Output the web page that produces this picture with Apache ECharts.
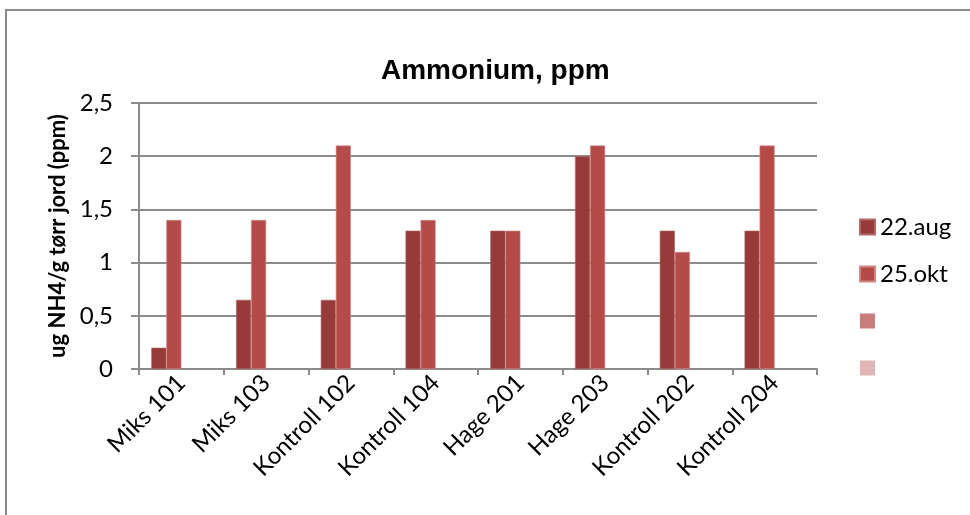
<!DOCTYPE html>
<html>
<head>
<meta charset="utf-8">
<script src="https://cdn.jsdelivr.net/npm/echarts@6/dist/echarts.min.js"></script>
<style>
  html, body { margin: 0; padding: 0; background: #fff; }
  #frame { position: absolute; left: 5px; top: 9px; width: 980px; height: 520px;
           border-left: 2px solid #8c8c8c; border-top: 2px solid #8c8c8c; }
  #myChart { position: absolute; left: 0; top: 0; width: 970px; height: 515px; }
</style>
</head>
<body>
<div id="frame"></div>
<div id="myChart"></div>
<script>
// categories and values
var categories = ['Miks 101', 'Miks 103', 'Kontroll 102', 'Kontroll 104',
                  'Hage 201', 'Hage 203', 'Kontroll 202', 'Kontroll 204'];
var aug22 = [0.2, 0.65, 0.65, 1.3, 1.3, 2.0, 1.3, 1.3];
var okt25 = [1.4, 1.4, 2.1, 1.4, 1.3, 2.1, 1.1, 2.1];
// two empty series (legend keeps them, bars take space)
var empty3 = [null, null, null, null, null, null, null, null];
var empty4 = [null, null, null, null, null, null, null, null];
var yTicks = [0, 0.5, 1, 1.5, 2, 2.5];

var font = 'Lato, "Open Sans", sans-serif';

var option = {
  animation: false,
  color: ['#963b3a', '#b44b49', '#c87c7b', '#dfb6b5'],
  title: {
    text: 'Ammonium, ppm',
    left: 376,
    top: 52,
    textStyle: { fontFamily: '"Liberation Sans", sans-serif',
                 fontSize: 28, fontWeight: 'bold', color: '#000' }
  },
  legend: {
    orient: 'vertical',
    left: 854,
    top: 210,
    itemWidth: 15,
    itemHeight: 15,
    itemGap: 23,
    icon: 'rect',
    textStyle: { fontFamily: font, fontSize: 24, lineHeight: 22, color: '#000' },
    data: ['22.aug', '25.okt', ' ', '  ']
  },
  grid: { left: 139, right: 153, top: 103, bottom: 146 },
  xAxis: {
    type: 'category',
    data: categories,
    axisLine: { lineStyle: { color: '#8c8c8c', width: 2 } },
    axisTick: { show: true, length: 6, lineStyle: { color: '#8c8c8c', width: 2 } },
    axisLabel: { rotate: 45, margin: 10, fontFamily: font, fontSize: 24, color: '#000' }
  },
  yAxis: {
    type: 'value',
    min: 0,
    max: yTicks[yTicks.length - 1],
    interval: 0.5,
    name: 'ug NH4/g tørr jord (ppm)',
    nameLocation: 'middle',
    nameGap: 68,
    nameRotate: 90,
    nameTextStyle: { fontFamily: font, fontSize: 22, fontWeight: 'bold', color: '#000' },
    axisLine: { show: true, lineStyle: { color: '#8c8c8c', width: 2 } },
    axisTick: { show: true, length: 8, lineStyle: { color: '#8c8c8c', width: 2 } },
    splitLine: { lineStyle: { color: '#8c8c8c', width: 2 } },
    axisLabel: {
      margin: 26, fontFamily: font, fontSize: 24, color: '#000',
      formatter: function (v) { return String(v).replace('.', ','); }
    }
  },
  series: [
    { name: '22.aug', type: 'bar', data: aug22, barGap: 0, barCategoryGap: '29%',
      itemStyle: { borderColor: '#b06866', borderWidth: 0.6 } },
    { name: '25.okt', type: 'bar', data: okt25, barGap: 0, barCategoryGap: '29%',
      itemStyle: { borderColor: '#d08886', borderWidth: 0.6 } },
    { name: ' ', type: 'bar', data: empty3, barGap: 0, barCategoryGap: '29%' },
    { name: '  ', type: 'bar', data: empty4, barGap: 0, barCategoryGap: '29%' }
  ]
};

var myChart = echarts.init(document.getElementById('myChart'));
myChart.setOption(option);
</script>
</body>
</html>
